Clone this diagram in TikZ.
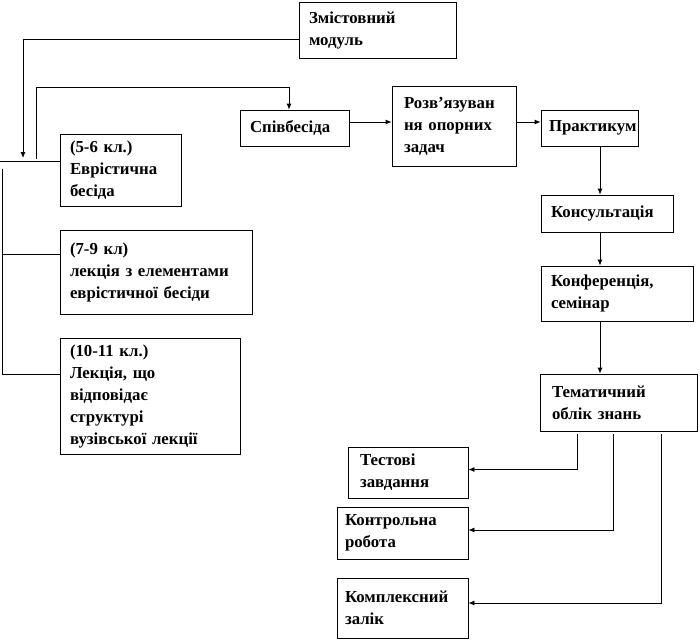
\documentclass[tikz,border=0pt]{standalone}
\usepackage{fontspec}
\setmainfont{Liberation Serif}
\usetikzlibrary{arrows.meta,calc}

\begin{document}
\begin{tikzpicture}[x=1pt,y=-1pt,>={Latex[length=6pt,width=5pt]},line width=0.8pt,
  blok/.style={draw,align=left,inner xsep=10pt,inner ysep=2pt,
    font=\bfseries\fontsize{16.8}{22}\selectfont}]

\useasboundingbox (0,0) rectangle (700,642);

% bloky
\node[blok,text width=137pt,minimum height=56pt] (modul) at (377.5,30) {Змістовний\\модуль};
\node[blok,text width=89pt,minimum height=36pt] (besida) at (294.5,128) {Співбесіда};
\node[blok,inner xsep=12pt,text width=100pt,minimum height=80pt] (rozv) at (454,126) {Розв’язуван\\ня опорних\\задач};
\node[blok,inner xsep=8pt,text width=81pt,minimum height=36pt] (prakt) at (589.5,128) {Практикум};
\node[blok,text width=112pt,minimum height=37pt] (kons) at (607,213.5) {Консультація};
\node[blok,text width=132pt,minimum height=55pt] (konf) at (617,293.5) {Конференція,\\семінар};
\node[blok,inner xsep=12pt,text width=133pt,minimum height=57pt] (tema) at (618.5,402.5) {Тематичний\\облік знань};

\node[blok,inner xsep=12pt,text width=96pt,minimum height=51pt] (test) at (408,472.5) {Тестові\\завдання};
\node[blok,inner xsep=8pt,text width=115pt,minimum height=52pt] (kontr) at (402.5,533) {Контрольна\\робота};
\node[blok,inner xsep=8pt,text width=115pt,minimum height=60pt] (kompl) at (402.5,608) {Комплексний\\залік};

\node[blok,text width=101pt,minimum height=72pt] (kl56) at (120.5,170) {(5-6 кл.)\\Еврістична\\бесіда};
\node[blok,text width=172pt,minimum height=84pt] (kl79) at (156,272) {(7-9 кл)\\лекція з елементами\\еврістичної бесіди};
\node[blok,text width=160pt,minimum height=116pt] (kl1011) at (150,396) {(10-11 кл.)\\Лекція, що\\відповідає\\структурі\\вузівської лекції};

% zvjazky
\coordinate (s1) at (23,158);
\coordinate (s2) at (36,159);
\coordinate (k2) at (289,87);
\coordinate (h) at (0,122);
\coordinate (v) at (600,0);

\draw[->] ([yshift=-9pt]modul.west) -| (s1);
\draw[->] (s2) |- (k2) -- (k2 |- besida.north);
\draw[->] (besida.east |- h) -- (rozv.west |- h);
\draw[->] (rozv.east |- h) -- (prakt.west |- h);
\draw[->] (v |- prakt.south) -- (v |- kons.north);
\draw[->] (v |- kons.south) -- (v |- konf.north);
\draw[->] (v |- konf.south) -- (v |- tema.north);

\draw[->] ([xshift=-41.5pt,yshift=-3pt]tema.south) |- ([yshift=3pt]test.east);
\draw[->] ([xshift=-5.5pt,yshift=-3pt]tema.south) |- ([yshift=3pt]kontr.east);
\draw[->] ([xshift=42.5pt,yshift=-3pt]tema.south) |- ([yshift=5pt]kompl.east);

% liva dushka
\coordinate (l1) at (0,161);
\coordinate (l2) at (2,169);
\coordinate (l3) at (2,374);
\coordinate (l4) at (2,254);
\draw (l1) -- (l1 -| kl56.west);
\draw (l2) -- (l3) -- (l3 -| kl1011.west);
\draw (l4) -- (l4 -| kl79.west);

\end{tikzpicture}
\end{document}
